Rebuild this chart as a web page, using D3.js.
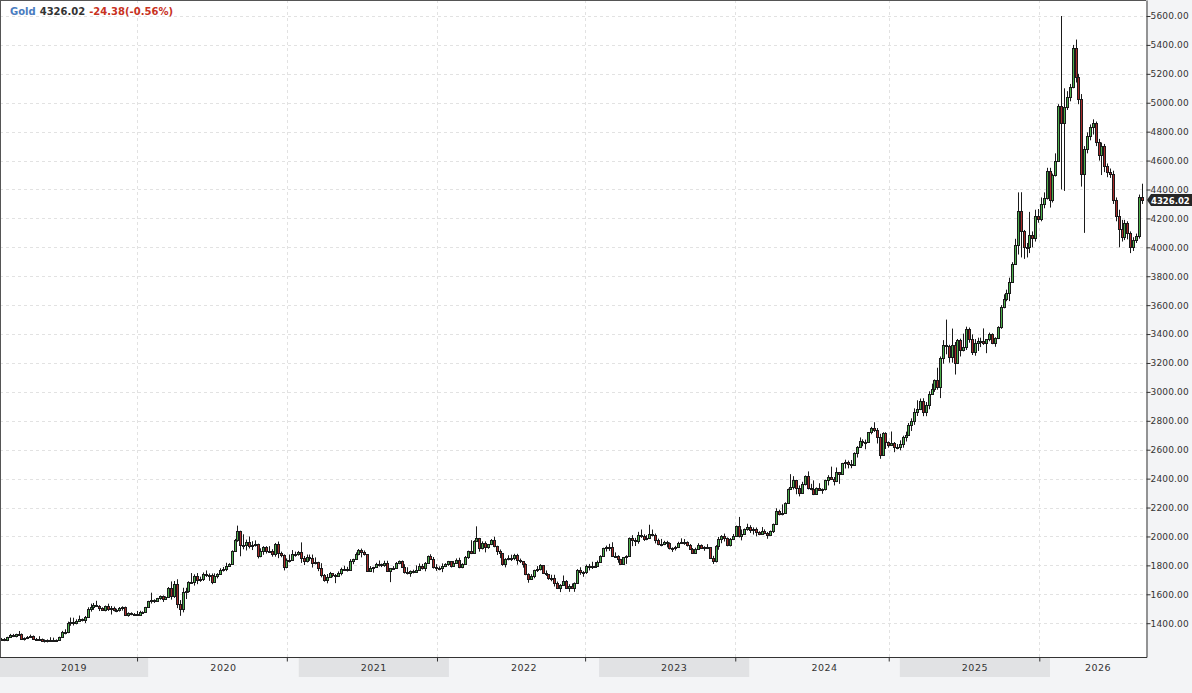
<!DOCTYPE html>
<html>
<head>
<meta charset="utf-8">
<script src="https://cdn.jsdelivr.net/npm/d3@7"></script>
<style>
  body { margin: 0; background: #f3f4f6; }
  svg { display: block; font-family: 'DejaVu Sans', Verdana, sans-serif; }
</style>
</head>
<body>
<div id="chart"></div>
<script>
// weekly gold candles, first week is Jan 7-11 2019 (dated on the wednesday)
const firstWeek = new Date(2019, 0, 9);
const firstOpen = 1285;

const closes = [
  // 2019
  1288,1282,1304,1318,1314,1322,1328,1294,1298,1302,1313,1292,1291,
  1290,1275,1286,1280,1286,1277,1284,1305,1341,1341,1399,1409,1399,
  1415,1426,1419,1440,1497,1513,1527,1520,1507,1488,1517,1497,1505,
  1489,1490,1505,1514,1459,1468,1462,1464,1460,1476,1478,1511,1552,
  // 2020
  1560,1557,1571,1589,1570,1584,1643,1585,1674,1530,1498,1617,1620,
  1683,1683,1727,1700,1703,1743,1735,1730,1684,1729,1743,1771,1775,
  1798,1810,1902,1975,2035,1944,1940,1964,1933,1940,1950,1862,1900,
  1930,1899,1902,1879,1951,1889,1871,1788,1838,1840,1881,1877,1895,
  // 2021
  1850,1830,1856,1848,1814,1824,1784,1734,1700,1719,1745,1733,1728,
  1744,1777,1777,1768,1831,1843,1881,1903,1891,1877,1764,1781,1787,
  1808,1812,1802,1814,1763,1779,1781,1818,1827,1788,1754,1750,1761,
  1757,1767,1793,1783,1818,1865,1846,1788,1783,1783,1798,1811,1829,
  // 2022
  1797,1817,1835,1791,1807,1860,1899,1889,1970,1988,1921,1958,1925,
  1945,1975,1931,1897,1883,1811,1846,1853,1851,1871,1840,1827,1811,
  1742,1703,1727,1766,1775,1802,1747,1737,1712,1716,1675,1644,1661,
  1695,1644,1657,1645,1681,1771,1751,1755,1797,1797,1793,1798,1824,
  // 2023
  1866,1920,1926,1929,1865,1865,1842,1811,1855,1868,1989,1978,1969,
  2008,2004,1983,1990,2017,2011,1978,1946,1948,1961,1958,1921,1919,
  1925,1955,1962,1959,1943,1914,1889,1915,1940,1919,1924,1925,1848,
  1833,1932,1981,2006,1992,1940,1981,2001,2072,2004,2019,2053,2063,
  // 2024
  2045,2049,2029,2018,2039,2024,2013,2035,2083,2179,2156,2165,2233,
  2330,2344,2392,2338,2302,2360,2415,2334,2327,2294,2333,2322,2326,
  2391,2411,2400,2386,2443,2431,2507,2512,2503,2497,2577,2621,2658,
  2653,2656,2721,2747,2736,2685,2563,2715,2650,2633,2648,2622,2621,
  // 2025
  2640,2690,2702,2770,2798,2860,2882,2936,2858,2910,2984,3023,3084,
  3037,3237,3327,3319,3240,3325,3203,3357,3289,3310,3432,3368,3274,
  3337,3355,3350,3337,3363,3397,3336,3371,3448,3586,3643,3685,3760,
  3886,4018,4252,4113,4002,4000,4085,4065,4220,4197,4300,4340,4530,
  4330,
  // 2026
  4500,4595,4980,4860,4970,5040,5110,5380,5175,5023,4504,4680,4770,
  4830,4860,4730,4640,4700,4560,4520,4510,4330,4215,4130,4070,4170,
  4100,4000,4050,4075,4350.40,4326.02
];

const highs = [
  1298,1297,1306,1326,1326,1327,1346,1329,1302,1311,1321,1315,1298,
  1310,1294,1288,1288,1303,1300,1288,1307,1347,1358,1411,1439,1438,
  1427,1453,1433,1450,1510,1535,1540,1555,1525,1510,1522,1535,1519,
  1515,1500,1512,1517,1515,1475,1475,1470,1485,1486,1482,1513,1555,
  1611,1565,1575,1592,1592,1586,1650,1689,1692,1704,1560,1645,1645,
  1690,1747,1738,1747,1722,1751,1765,1744,1744,1745,1746,1780,1789,
  1818,1815,1904,1983,2075,2040,2015,1978,2000,1967,1973,1950,1918,
  1933,1933,1933,1912,1955,1965,1895,1876,1848,1875,1906,1895,1900,
  1959,1865,1875,1875,1875,1855,1825,1815,1740,1740,1755,1745,1740,
  1758,1784,1797,1790,1843,1846,1890,1913,1916,1903,1877,1795,1790,
  1818,1834,1812,1832,1832,1782,1795,1823,1834,1834,1808,1787,1765,
  1770,1800,1813,1810,1823,1868,1877,1858,1808,1793,1814,1815,1831,
  1830,1830,1848,1853,1815,1865,1902,1974,1974,2070,1990,1966,1966,
  1948,1982,1998,1936,1910,1885,1850,1870,1874,1880,1880,1847,1830,
  1815,1745,1739,1770,1795,1808,1802,1765,1740,1735,1735,1688,1670,
  1730,1698,1670,1675,1682,1774,1787,1760,1805,1810,1825,1823,1833,
  1870,1922,1937,1949,1960,1890,1870,1845,1858,1870,1993,2009,1990,
  2032,2048,2015,2009,2081,2048,2020,1985,1983,1970,1970,1959,1925,
  1935,1963,1987,1982,1966,1948,1920,1922,1953,1945,1932,1947,1925,
  1866,1940,1997,2009,2020,1993,1989,2017,2075,2135,2048,2055,2088,
  2078,2063,2062,2036,2065,2049,2031,2041,2089,2195,2185,2222,2236,
  2331,2431,2417,2392,2353,2378,2422,2450,2364,2388,2339,2368,2332,
  2393,2424,2483,2411,2477,2437,2509,2531,2525,2529,2582,2625,2685,
  2672,2670,2722,2758,2790,2750,2710,2721,2721,2657,2726,2653,2639,
  2665,2697,2725,2785,2817,2886,2942,2954,2956,2930,3004,3057,3086,
  3167,3245,3358,3500,3326,3438,3345,3366,3368,3403,3451,3445,3398,
  3365,3375,3375,3439,3364,3410,3405,3378,3454,3600,3675,3707,3790,
  3897,4059,4380,4381,4120,4030,4245,4110,4260,4265,4345,4380,4550,
  4550,
  4510,4650,4990,5600,5100,5080,5130,5400,5437,5200,5060,4700,4795,
  4850,4885,4870,4750,4725,4715,4580,4545,4530,4345,4260,4190,4190,
  4180,4110,4070,4095,4365,4440
];

const lows = [
  1280,1276,1276,1298,1304,1302,1320,1290,1280,1290,1298,1287,1280,
  1286,1270,1266,1267,1279,1273,1270,1279,1305,1323,1331,1382,1384,
  1392,1412,1412,1401,1437,1480,1492,1513,1484,1485,1482,1485,1460,
  1482,1476,1480,1487,1456,1445,1455,1453,1458,1460,1472,1476,1508,
  1536,1540,1548,1562,1547,1562,1580,1563,1575,1504,1451,1475,1567,
  1610,1672,1660,1670,1686,1692,1720,1693,1670,1680,1710,1741,1757,
  1760,1795,1808,1900,1963,1863,1911,1903,1917,1906,1930,1848,1856,
  1873,1882,1894,1860,1860,1850,1856,1765,1780,1820,1840,1860,1867,
  1817,1802,1820,1831,1785,1807,1760,1717,1687,1676,1716,1718,1677,
  1724,1731,1770,1757,1762,1808,1840,1870,1855,1868,1761,1766,1750,
  1784,1792,1788,1790,1755,1684,1772,1778,1808,1782,1743,1737,1721,
  1745,1750,1763,1771,1759,1810,1840,1778,1762,1766,1753,1788,1797,
  1785,1790,1810,1780,1780,1805,1845,1878,1890,1965,1895,1910,1890,
  1915,1940,1925,1872,1850,1797,1786,1835,1830,1836,1805,1816,1784,
  1732,1680,1700,1711,1754,1765,1745,1727,1700,1690,1654,1639,1615,
  1660,1640,1617,1638,1617,1680,1735,1721,1741,1765,1775,1785,1795,
  1825,1865,1896,1900,1861,1853,1818,1806,1804,1810,1868,1933,1934,
  1950,1990,1969,1974,1982,2000,1952,1939,1932,1940,1924,1910,1893,
  1903,1922,1952,1942,1930,1910,1885,1884,1913,1915,1901,1913,1846,
  1810,1820,1908,1953,1965,1932,1931,1975,2000,1993,1973,2017,2040,
  2024,2013,2001,2009,2015,2016,1984,2013,2024,2079,2146,2146,2159,
  2229,2323,2325,2292,2277,2298,2353,2325,2320,2286,2294,2315,2295,
  2318,2353,2396,2353,2376,2364,2430,2470,2471,2472,2496,2546,2625,
  2624,2603,2650,2707,2723,2643,2537,2563,2605,2614,2632,2583,2603,
  2596,2614,2657,2695,2730,2772,2833,2874,2832,2832,2880,2982,3000,
  3015,2957,3195,3260,3202,3202,3120,3200,3245,3280,3290,3340,3255,
  3250,3283,3310,3325,3268,3350,3330,3312,3365,3436,3578,3627,3628,
  3760,3886,3950,3930,3920,3930,3960,4000,4040,4170,4180,4270,4330,
  4275,
  4310,4490,4590,4400,4390,4950,5010,5100,5140,4990,4420,4100,4650,
  4740,4780,4700,4600,4500,4520,4485,4480,4300,4180,4000,4040,4050,
  4055,3960,3975,4030,4060,4300
];

const yTicks = [1400,1600,1800,2000,2200,2400,2600,2800,3000,3200,3400,
                3600,3800,4000,4200,4400,4600,4800,5000,5200,5400,5600];
const years = ['2019','2020','2021','2022','2023','2024','2025','2026'];
const gridDates = ['2019-12-05','2020-12-03','2021-12-03','2022-11-28',
                   '2023-11-28','2024-12-05','2025-12-06'];

const W = 1192, H = 693;
const pw = 1146, ph = 657;

const svg = d3.select('#chart').append('svg')
  .attr('width', W)
  .attr('height', H);

svg.append('rect').attr('width', W).attr('height', H).attr('fill', '#f3f4f6');
svg.append('rect').attr('width', pw).attr('height', ph).attr('fill', '#fff');

const x = d3.scaleTime()
  .domain([new Date(2019, 0, 1), new Date(2026, 0, 1)])
  .range([-2, 1050]);
const y = d3.scaleLinear()
  .domain([1166.2, 5710.7])
  .range([ph, 0]);

const data = closes.map(function(c, i) {
  return {
    date: d3.timeDay.offset(firstWeek, 7 * i),
    open: i ? closes[i - 1] : firstOpen,
    close: c,
    high: highs[i],
    low: lows[i]
  };
});

// grid
svg.append('g').selectAll('line')
  .data(yTicks)
  .enter()
  .append('line')
  .attr('x1', 0).attr('x2', pw)
  .attr('y1', d => Math.round(y(d)) + 0.5)
  .attr('y2', d => Math.round(y(d)) + 0.5)
  .attr('stroke', '#e2e2e2')
  .attr('stroke-dasharray', '3,3');

svg.append('g').selectAll('line')
  .data(gridDates)
  .enter()
  .append('line')
  .attr('x1', d => Math.round(x(new Date(d))) + 0.5)
  .attr('x2', d => Math.round(x(new Date(d))) + 0.5)
  .attr('y1', 0).attr('y2', ph)
  .attr('stroke', '#e2e2e2')
  .attr('stroke-dasharray', '3,3');

// candles
svg.append('clipPath').attr('id', 'plot-clip')
  .append('rect').attr('width', pw).attr('height', ph);

const candles = svg.append('g').attr('clip-path', 'url(#plot-clip)')
  .selectAll('g')
  .data(data)
  .enter()
  .append('g');

candles.append('line')
  .attr('x1', d => Math.round(x(d.date)) + 0.5)
  .attr('x2', d => Math.round(x(d.date)) + 0.5)
  .attr('y1', d => y(Math.max(d.high, d.open, d.close)))
  .attr('y2', d => y(Math.min(d.low, d.open, d.close)))
  .attr('stroke', '#1a1a1a')
  .attr('stroke-width', 1);

candles.append('rect')
  .attr('x', d => Math.round(x(d.date)) - 0.5)
  .attr('width', 2)
  .attr('y', d => Math.round(y(Math.max(d.open, d.close))) + 0.5)
  .attr('height', d => Math.max(1, Math.round(y(Math.min(d.open, d.close))) - Math.round(y(Math.max(d.open, d.close)))))
  .attr('fill', d => d.close >= d.open ? '#4caf4c' : '#a82a2a')
  .attr('stroke', '#1a1a1a')
  .attr('stroke-width', 1);

// frame
svg.append('line').attr('x1', 0).attr('x2', pw).attr('y1', 0.5).attr('y2', 0.5)
  .attr('stroke', '#555');
svg.append('line').attr('x1', 0.5).attr('x2', 0.5).attr('y1', 0).attr('y2', ph)
  .attr('stroke', '#555');

// right axis
const yAxis = svg.append('g')
  .attr('transform', 'translate(' + (pw + 0.5) + ',0)')
  .call(d3.axisRight(y).tickValues(yTicks).tickSize(4).tickSizeOuter(0)
    .tickPadding(0).tickFormat(d3.format('.2f')));
yAxis.select('.domain').attr('stroke', '#333');
yAxis.selectAll('.tick line').attr('stroke', '#333');
yAxis.selectAll('.tick text')
  .attr('fill', '#333')
  .attr('font-size', 9)
  .attr('letter-spacing', '0.15px')
  .attr('font-family', "'DejaVu Sans', Verdana, sans-serif");

// year bands under the plot
const bands = years.map(function(yr, k) {
  const x0 = Math.max(0, x(new Date(+yr, 0, 1)));
  const x1 = k < years.length - 1 ? x(new Date(+yr + 1, 0, 1)) : pw;
  return { label: yr, x0: x0, x1: x1, shade: k % 2 == 0 };
});

svg.append('g').selectAll('rect')
  .data(bands.filter(d => d.shade))
  .enter()
  .append('rect')
  .attr('x', d => d.x0)
  .attr('width', d => d.x1 - d.x0)
  .attr('y', ph + 1)
  .attr('height', 19)
  .attr('fill', '#e1e2e4');

svg.append('g').selectAll('text')
  .data(bands)
  .enter()
  .append('text')
  .attr('x', d => (d.x0 + d.x1) / 2)
  .attr('y', ph + 14)
  .attr('text-anchor', 'middle')
  .attr('font-size', 9.5)
  .attr('letter-spacing', '0.5px')
  .attr('fill', '#333')
  .text(d => d.label);

const xAxis = svg.append('g')
  .attr('transform', 'translate(0,' + (ph + 0.5) + ')')
  .call(d3.axisBottom(x).tickValues(gridDates.map(d => new Date(d)))
    .tickSize(4).tickSizeOuter(0).tickFormat(''));
xAxis.select('.domain').remove();
xAxis.selectAll('.tick line').attr('stroke', '#333');
svg.append('line').attr('x1', 0).attr('x2', pw + 1)
  .attr('y1', ph + 0.5).attr('y2', ph + 0.5)
  .attr('stroke', '#333');

// header
const last = data[data.length - 1];
const prev = data[data.length - 2];
const chg = last.close - prev.close;
const head = svg.append('text')
  .attr('x', 10).attr('y', 15)
  .attr('font-size', 10)
  .attr('font-weight', 'bold');
head.append('tspan').attr('fill', '#4a7cc0').text('Gold');
head.append('tspan').attr('fill', '#333').attr('dx', 4).text(last.close.toFixed(2));
head.append('tspan').attr('fill', '#c8321e').attr('dx', 4)
  .text(chg.toFixed(2) + '(' + (chg / prev.close * 100).toFixed(2) + '%)');

// last price tag
const ly = Math.round(y(last.close));
svg.append('path')
  .attr('d', 'M' + (pw + 1) + ',' + ly + 'L' + (pw + 5) + ',' + (ly - 6) + 'H' + W +
             'V' + (ly + 6) + 'H' + (pw + 5) + 'Z')
  .attr('fill', '#262626');
svg.append('text')
  .attr('x', pw + 5).attr('y', ly + 3.5)
  .attr('font-size', 8.5)
  .attr('font-weight', 'bold')
  .attr('fill', '#fff')
  .text(last.close.toFixed(2));
</script>
</body>
</html>
